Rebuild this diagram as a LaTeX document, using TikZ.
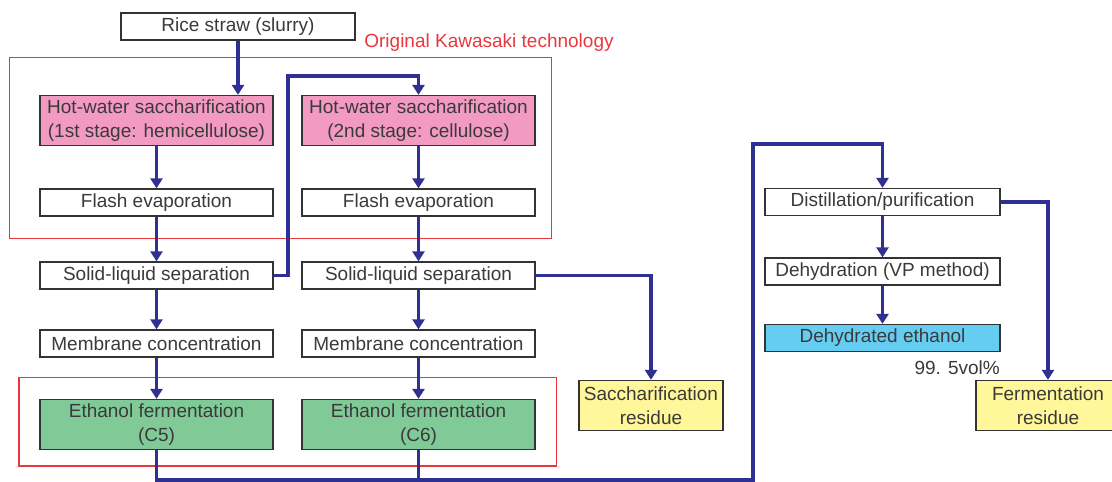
\documentclass[tikz,border=0pt]{standalone}
\usepackage{fontspec}
\setmainfont{Liberation Sans}
\usetikzlibrary{arrows.meta}
\definecolor{flowblue}{HTML}{2E3192}
\definecolor{kred}{HTML}{E8383D}
\definecolor{boxgray}{HTML}{333333}
\definecolor{txtgray}{HTML}{3A3A3A}
\definecolor{pinkfill}{HTML}{F39AC3}
\definecolor{greenfill}{HTML}{80CA98}
\definecolor{cyanfill}{HTML}{66CDF2}
\definecolor{yellowfill}{HTML}{FFF799}
\tikzset{
  every node/.style={font=\fontsize{19}{24}\selectfont, text=txtgray},
  procbox/.style={draw=boxgray, line width=1.3pt, minimum width=233pt, minimum height=27pt, inner sep=0pt, align=center, fill=white},
  tallbox/.style={procbox, minimum height=50pt},
  resbox/.style={draw=boxgray, line width=1.3pt, minimum width=144pt, minimum height=50pt, inner sep=0pt, align=center, fill=yellowfill},
  flow/.style={draw=flowblue, line width=3.2pt, -{Triangle[width=12pt,length=10pt]}},
  flowline/.style={draw=flowblue, line width=3.2pt},
  kbox/.style={draw=kred, line width=1.4pt}
}
\begin{document}
\begin{tikzpicture}[x=1pt,y=-1pt]
\useasboundingbox (0,0) rectangle (1112,482);
% red frames
\draw[kbox] (9.5,57.5) rectangle (551.5,238.5);
\draw[kbox] (19,377.5) rectangle (556.5,466);
\node[text=kred] (klabel) at (489,43) {Original Kawasaki technology};
% nodes
\node[procbox, minimum width=234pt] (rice) at (238,26.5) {Rice straw (slurry)};
\node[tallbox, fill=pinkfill] (hw1) at (156.5,120.5) {Hot-water saccharification\\(1st stage: hemicellulose)};
\node[tallbox, fill=pinkfill] (hw2) at (418.5,120.5) {Hot-water saccharification\\(2nd stage: cellulose)};
\node[procbox] (fl1) at (156.5,202.5) {Flash evaporation};
\node[procbox] (fl2) at (418.5,202.5) {Flash evaporation};
\node[procbox] (sl1) at (156.5,275.5) {Solid-liquid separation};
\node[procbox] (sl2) at (418.5,275.5) {Solid-liquid separation};
\node[procbox] (mc1) at (156.5,343.5) {Membrane concentration};
\node[procbox] (mc2) at (418.5,343.5) {Membrane concentration};
\node[tallbox, fill=greenfill] (ef1) at (156.5,424.5) {Ethanol fermentation\\(C5)};
\node[tallbox, fill=greenfill] (ef2) at (418.5,424.5) {Ethanol fermentation\\(C6)};
\node[resbox] (sr) at (651,405.5) {Saccharification\\residue};
\node[procbox, minimum width=235pt] (dist) at (882.5,202) {Distillation/purification};
\node[procbox, minimum width=235pt] (dehyd) at (882.5,271.5) {Dehydration (VP method)};
\node[procbox, minimum width=235pt, fill=cyanfill] (deth) at (882.5,338) {Dehydrated ethanol};
\node[anchor=east, inner sep=0pt] (pct) at (1000,368) {99. 5vol\%};
\node[resbox] (fr) at (1048,405.5) {Fermentation\\residue};
% coordinates
\coordinate (j1) at (288,76);
\coordinate (b) at (753,480);
\coordinate (t) at (753,144);
% connectors
\draw[flow] (rice.south) -- (rice.south |- hw1.north);
\draw[flow] (hw1) -- (fl1);
\draw[flow] (fl1) -- (sl1);
\draw[flow] (sl1) -- (mc1);
\draw[flow] (mc1) -- (ef1);
\draw[flow] (hw2) -- (fl2);
\draw[flow] (fl2) -- (sl2);
\draw[flow] (sl2) -- (mc2);
\draw[flow] (mc2) -- (ef2);
\draw[flow] (sl1.east) -| (j1) -| (hw2.north);
\draw[flow] (sl2.east) -| (sr.north);
\draw[flowline] (ef2.south) -- (ef2.south |- b);
\draw[flow] (ef1.south) |- (b) -- (t) -| (dist.north);
\draw[flow] (dist) -- (dehyd);
\draw[flow] (dehyd) -- (deth);
\draw[flow] (dist.east) -| (fr.north);
\end{tikzpicture}
\end{document}
